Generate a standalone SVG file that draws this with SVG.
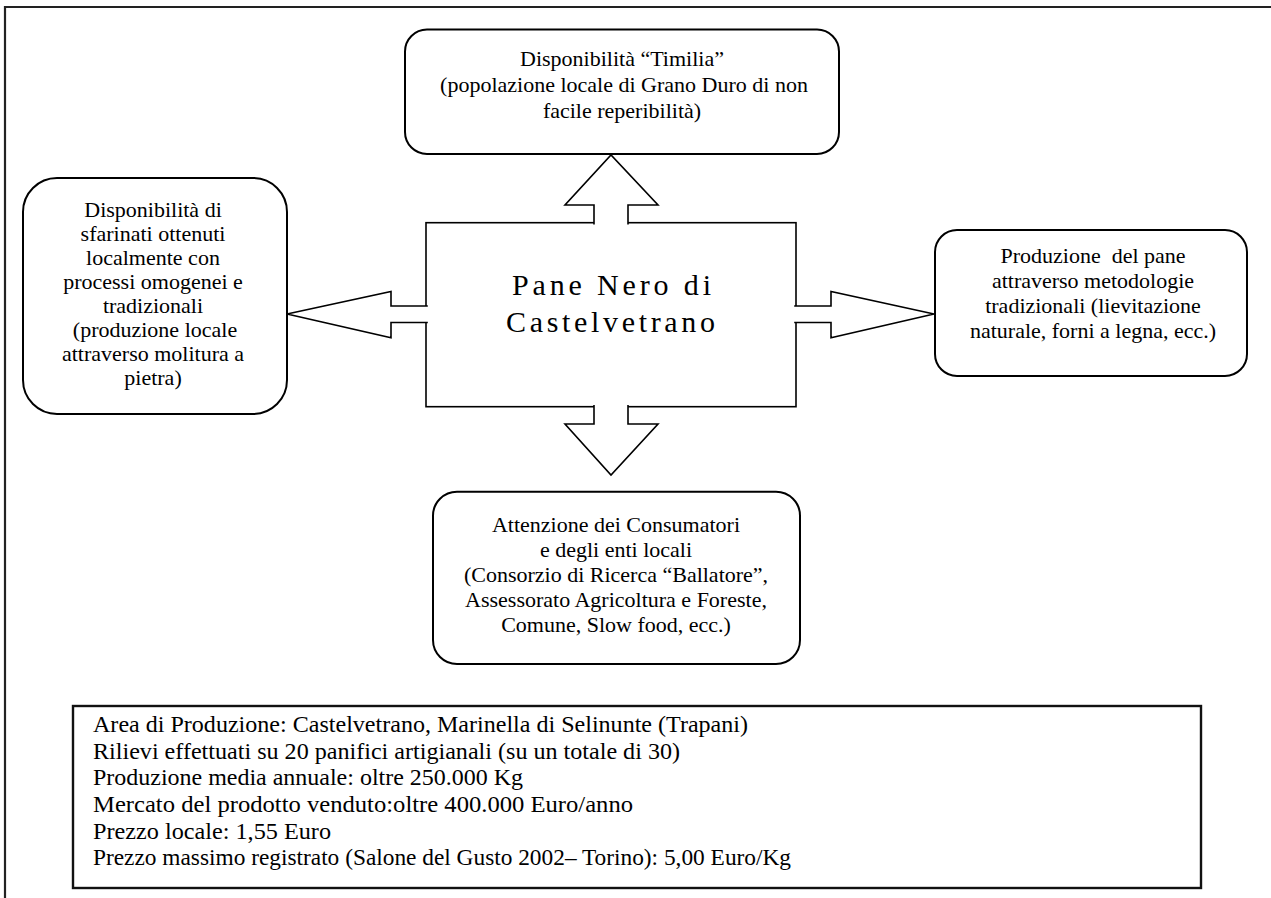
<svg xmlns="http://www.w3.org/2000/svg" width="1271" height="898" viewBox="0 0 1271 898">
<style>
  .box { fill: #ffffff; stroke: #000000; stroke-width: 2; }
  .arrow { fill: #ffffff; stroke: #000000; stroke-width: 1.6; stroke-linejoin: miter; }
  .t { font-family: "Liberation Serif", "Times New Roman", serif; font-size: 22px; fill: #000000; text-anchor: middle; }
  .info { font-family: "Liberation Serif", "Times New Roman", serif; font-size: 24px; fill: #000000; }
  .title { font-family: "Liberation Serif", "Times New Roman", serif; font-size: 30px; fill: #000000; }
</style>
<rect x="0" y="0" width="1271" height="898" fill="#ffffff"/>
<g id="frame">
  <path d="M5,898 V7 H1271" fill="none" stroke="#222222" stroke-width="2.2"/>
</g>
<g id="node-center">
  <rect x="426" y="222.7" width="370" height="184" fill="#ffffff" stroke="#000000" stroke-width="1.6"/>
  <text class="title" x="512" y="295" textLength="199" lengthAdjust="spacing">Pane Nero di</text>
  <text class="title" x="506" y="331.7" textLength="209" lengthAdjust="spacing">Castelvetrano</text>
</g>
<g id="connectors">
  <path class="arrow" d="M594,224.5 V205 H565 L611,155 L658,205 H628 V224.5"/>
  <path class="arrow" d="M594,405 V424 H565 L611,475 L658,424 H628 V405"/>
  <path class="arrow" d="M427.8,306 H391 V291.5 L287,314 L391,337.7 V322.5 H427.8"/>
  <path class="arrow" d="M794.2,306 H831 V291.5 L934,314 L831,337.7 V322.5 H794.2"/>
</g>
<g id="node-top">
  <rect class="box" x="405" y="29.5" width="434" height="124.5" rx="22" ry="22"/>
  <text class="t" x="622" y="66">Disponibilità “Timilia”</text>
  <text class="t" x="624" y="92">(popolazione locale di Grano Duro di non</text>
  <text class="t" x="622" y="118">facile reperibilità)</text>
</g>
<g id="node-left">
  <rect class="box" x="23" y="178" width="264" height="236" rx="34" ry="34"/>
  <text class="t" x="153" y="217">Disponibilità di</text>
  <text class="t" x="153" y="241">sfarinati ottenuti</text>
  <text class="t" x="153" y="265">localmente con</text>
  <text class="t" x="153" y="289">processi omogenei e</text>
  <text class="t" x="153" y="313">tradizionali</text>
  <text class="t" x="155" y="337">(produzione locale</text>
  <text class="t" x="153" y="361">attraverso molitura a</text>
  <text class="t" x="153" y="385">pietra)</text>
</g>
<g id="node-right">
  <rect class="box" x="935" y="230" width="312" height="146" rx="22" ry="22"/>
  <text class="t" x="1093" y="263" xml:space="preserve">Produzione  del pane</text>
  <text class="t" x="1093" y="288">attraverso metodologie</text>
  <text class="t" x="1093" y="313">tradizionali (lievitazione</text>
  <text class="t" x="1093" y="338">naturale, forni a legna, ecc.)</text>
</g>
<g id="node-bottom">
  <rect class="box" x="433" y="491.7" width="367" height="172.3" rx="24" ry="24"/>
  <text class="t" x="616" y="532">Attenzione dei Consumatori</text>
  <text class="t" x="616" y="557">e degli enti locali</text>
  <text class="t" x="616" y="582">(Consorzio di Ricerca “Ballatore”,</text>
  <text class="t" x="616" y="607">Assessorato Agricoltura e Foreste,</text>
  <text class="t" x="616" y="632">Comune, Slow food, ecc.)</text>
</g>
<g id="node-info">
  <rect x="73" y="706" width="1128" height="182" fill="#ffffff" stroke="#111111" stroke-width="2.4"/>
  <text class="info" x="93" y="732" textLength="655" lengthAdjust="spacingAndGlyphs">Area di Produzione: Castelvetrano, Marinella di Selinunte (Trapani)</text>
  <text class="info" x="93" y="758.7" textLength="587" lengthAdjust="spacingAndGlyphs">Rilievi effettuati su 20 panifici artigianali (su un totale di 30)</text>
  <text class="info" x="93" y="785.3" textLength="430" lengthAdjust="spacingAndGlyphs">Produzione media annuale: oltre 250.000 Kg</text>
  <text class="info" x="93" y="812" textLength="540" lengthAdjust="spacingAndGlyphs">Mercato del prodotto venduto:oltre 400.000 Euro/anno</text>
  <text class="info" x="93" y="838.7" textLength="238" lengthAdjust="spacingAndGlyphs">Prezzo locale: 1,55 Euro</text>
  <text class="info" x="93" y="865.3" textLength="698" lengthAdjust="spacingAndGlyphs">Prezzo massimo registrato (Salone del Gusto 2002– Torino): 5,00 Euro/Kg</text>
</g>
</svg>
